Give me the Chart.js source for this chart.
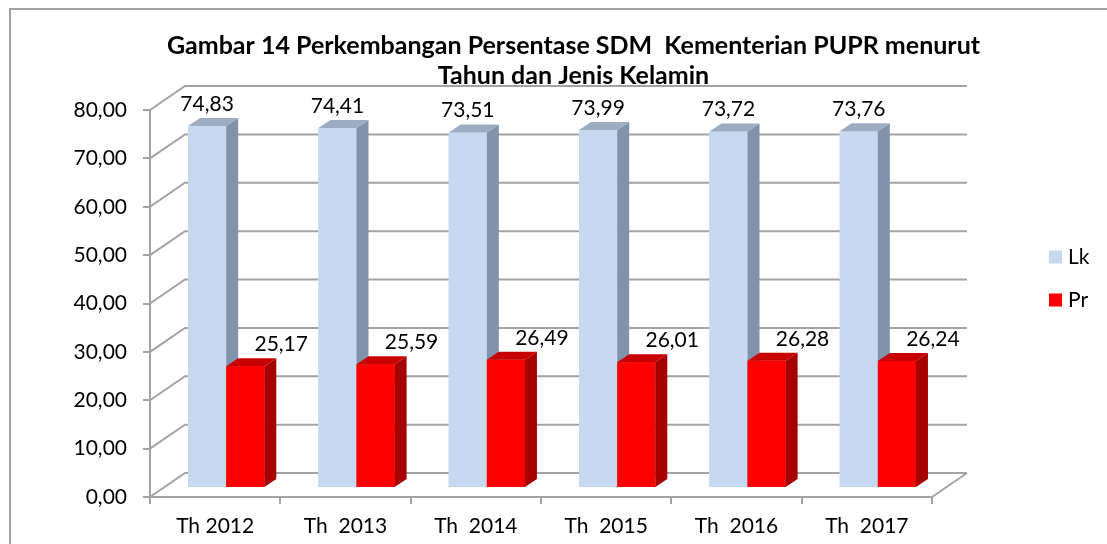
<!DOCTYPE html>
<html><head><meta charset="utf-8">
<script src="https://cdn.jsdelivr.net/npm/chart.js@4.4.1/dist/chart.umd.min.js"></script>
<style>html,body{margin:0;padding:0;background:#fff;overflow:hidden}#wrap{width:1107px;height:544px}</style>
</head><body><div id="wrap"><canvas id="c" width="1107" height="544"></canvas></div>
<script>
// ---- data ----
const categories = ['Th 2012', 'Th  2013', 'Th  2014', 'Th  2015', 'Th  2016', 'Th  2017'];
const seriesNames = ['Lk', 'Pr'];
const lkValues = [74.83, 74.41, 73.51, 73.99, 73.72, 73.76];
const prValues = [25.17, 25.59, 26.49, 26.01, 26.28, 26.24];
const yMin = 0, yMax = 80, yStep = 10;
const titleLines = ['Gambar 14 Perkembangan Persentase SDM  Kementerian PUPR menurut', 'Tahun dan Jenis Kelamin'];

// ---- style ----
const FONT = 'Lato, Carlito, Calibri, sans-serif';
const LINE = '#a3a3a3';
const WALL = {dx: 35, dy: -24};
const SHIFT = {dx: 11, dy: -9};
const DEPTH = {dx: 12, dy: -8};
const fmt = v => Number(v).toFixed(2).replace('.', ',');

const threeD = {
  id: 'threeD',
  beforeDraw(chart) {
    const ctx = chart.ctx;
    ctx.save();
    ctx.strokeStyle = LINE; ctx.lineWidth = 2;
    ctx.beginPath(); ctx.moveTo(10, chart.height); ctx.lineTo(10, 9); ctx.lineTo(chart.width, 9); ctx.stroke();
    ctx.restore();
  },
  beforeDatasetsDraw(chart) {
    const {ctx, chartArea: a, scales: {y}} = chart;
    ctx.save();
    ctx.strokeStyle = LINE; ctx.lineWidth = 2;
    ctx.beginPath();
    y.ticks.forEach(t => {
      const py = y.getPixelForValue(t.value);
      ctx.moveTo(a.left, py);
      ctx.lineTo(a.left + WALL.dx, py + WALL.dy);
      ctx.lineTo(a.right + WALL.dx, py + WALL.dy);
    });
    const p0 = y.getPixelForValue(0);
    ctx.moveTo(a.right, p0); ctx.lineTo(a.right + WALL.dx, p0 + WALL.dy);
    ctx.stroke();
    ctx.restore();
    ctx.save();
    ctx.translate(SHIFT.dx, SHIFT.dy);
  },
  afterDatasetsDraw(chart) {
    const ctx = chart.ctx;
    // redraw in series order so that each bar's depth faces sit correctly
    chart.data.datasets.forEach((ds, i) => {
      chart.getDatasetMeta(i).data.forEach(bar => {
        bar.draw(ctx);
        const {x, y, base, width} = bar.getProps(['x', 'y', 'base', 'width'], true);
        const l = x - width / 2, r = x + width / 2;
        ctx.fillStyle = ds.sideColor;
        ctx.beginPath();
        ctx.moveTo(r, y); ctx.lineTo(r + DEPTH.dx, y + DEPTH.dy);
        ctx.lineTo(r + DEPTH.dx, base + DEPTH.dy); ctx.lineTo(r, base); ctx.closePath(); ctx.fill();
        ctx.fillStyle = ds.topColor;
        ctx.beginPath();
        ctx.moveTo(l, y); ctx.lineTo(l + DEPTH.dx, y + DEPTH.dy);
        ctx.lineTo(r + DEPTH.dx, y + DEPTH.dy); ctx.lineTo(r, y); ctx.closePath(); ctx.fill();
      });
    });
    ctx.restore();
    ctx.save();
    ctx.font = '21px ' + FONT;
    ctx.fillStyle = '#000';
    ctx.textAlign = 'center'; ctx.textBaseline = 'middle';
    chart.data.datasets.forEach((ds, i) => {
      chart.getDatasetMeta(i).data.forEach((bar, j) => {
        const {x, y} = bar.getProps(['x', 'y'], true);
        ctx.fillText(fmt(ds.data[j]), x + SHIFT.dx + ds.labelDx, y + SHIFT.dy - 22);
      });
    });
    // legend
    ctx.textAlign = 'left';
    chart.data.datasets.forEach((ds, i) => {
      const cy = 257 + i * 43;
      ctx.fillStyle = ds.backgroundColor;
      ctx.fillRect(1049, cy - 6.5, 13, 13);
      ctx.fillStyle = '#000';
      ctx.fillText(ds.label, 1068, cy);
    });
    ctx.restore();
  }
};

function build() {
  new Chart(document.getElementById('c'), {
    type: 'bar',
    data: {
      labels: categories,
      datasets: [
        {label: seriesNames[0], data: lkValues, backgroundColor: '#c6d9f1', sideColor: '#8093aa', topColor: '#9cadc3', labelDx: 0, clip: false},
        {label: seriesNames[1], data: prValues, backgroundColor: '#ff0000', sideColor: '#a60000', topColor: '#c80000', labelDx: 36, clip: false}
      ]
    },
    options: {
      responsive: false, animation: false, devicePixelRatio: 1,
      categoryPercentage: 0.585, barPercentage: 1,
      layout: {padding: {left: 50, right: 10, top: 0, bottom: 0}},
      plugins: {
        legend: {display: false},
        tooltip: {enabled: false},
        title: {
          display: true, text: titleLines, color: '#000',
          font: {family: FONT, size: 25, weight: 'bold', lineHeight: 1.2},
          padding: {top: 31, bottom: 19}
        }
      },
      scales: {
        x: {
          offset: true,
          grid: {offset: true, drawOnChartArea: false, drawTicks: true, tickLength: 7, color: LINE, lineWidth: 2},
          border: {display: true, color: LINE, width: 2},
          ticks: {font: {family: FONT, size: 21}, color: '#000', padding: 10, maxRotation: 0, autoSkip: false},
          afterFit(s) { s.height = 47; }
        },
        y: {
          min: yMin, max: yMax,
          grid: {drawOnChartArea: false, drawTicks: true, tickLength: 7, color: LINE, lineWidth: 2},
          border: {display: true, color: LINE, width: 2},
          ticks: {stepSize: yStep, font: {family: FONT, size: 21}, color: '#000', padding: 16, callback: v => fmt(v)},
          afterFit(s) { s.width = 100; }
        },
        y2: {
          position: 'right', display: true,
          grid: {display: false}, border: {display: false}, ticks: {display: false},
          afterFit(s) { s.width = 165; }
        }
      }
    },
    plugins: [threeD]
  });
}
Promise.all([document.fonts.load('21px Lato'), document.fonts.load('bold 25px Lato')]).then(build, build);
</script></body></html>
